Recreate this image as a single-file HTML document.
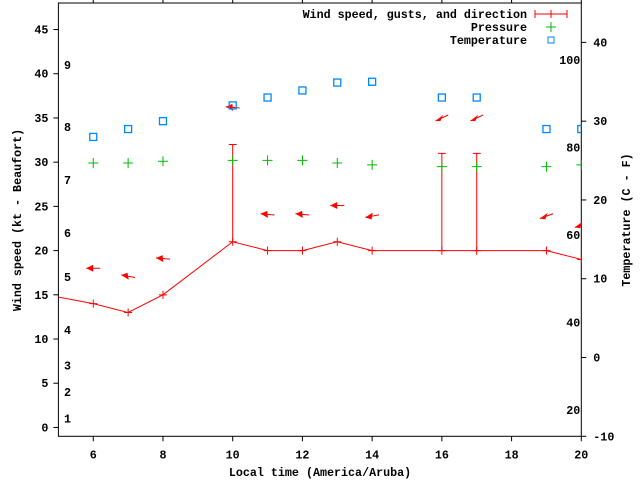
<!DOCTYPE html>
<html><head><meta charset="utf-8"><style>
body{margin:0;background:#fff}
svg text{font-family:"Liberation Mono",monospace;font-weight:bold;font-size:11.7px;fill:#000}
</style></head><body>
<svg id="chart" width="640" height="480" xmlns="http://www.w3.org/2000/svg">
<g id="axes"></g>
<g id="marks"></g>
<g id="legend">
<text x="527" y="18" text-anchor="end">Wind speed, gusts, and direction</text>
<line x1="535" y1="14" x2="567" y2="14" stroke="#f00"/>
<path d="M535 10V18M567 10V18M551 10V18" stroke="#f00"/>
<text x="527" y="31" text-anchor="end">Pressure</text>
<path d="M546 27H556M551 22V32" stroke="#0b0"/>
<text x="527" y="44" text-anchor="end">Temperature</text>
<rect x="548" y="37" width="6" height="6" fill="none" stroke="#08f"/>
</g>
<text transform="translate(21,220) rotate(-90)" text-anchor="middle">Wind speed (kt - Beaufort)</text>
<text transform="translate(630,220) rotate(-90)" text-anchor="middle">Temperature (C - F)</text>
<text x="320" y="476" text-anchor="middle">Local time (America/Aruba)</text>
</svg>
<script>
const hours=[4,6,7,8,10,11,12,13,14,16,17,19,20];
const speeds=[15.5,14,13,15,21,20,20,21,20,20,20,20,19];
const gustHours=[10,16,17];
const gustSpeeds=[32,31,31];
const gustBase=[21,20,20];
const arrowHours=[6,7,8,10,11,12,13,14,16,17,19,20];
const arrowLevels=[18,17.1,19.1,36.2,24.1,24.1,25.1,23.9,35,35,23.9,22.9];
const windDirs=[90,100,95,95,95,95,90,80,65,65,70,70];
const pressHours=[6,7,8,10,11,12,13,14,16,17,19,20];
const pressScaled=[29.9,29.9,30.1,30.2,30.2,30.2,29.9,29.7,29.5,29.5,29.5,29.7];
const tempHours=[6,7,8,10,11,12,13,14,16,17,19,20];
const tempsC=[28,29,30,32,33,33.9,34.9,35,33,33,29,29];
const xTicks=[6,8,10,12,14,16,18,20];
const yTicks=[0,5,10,15,20,25,30,35,40,45];
const y2Ticks=[-10,0,10,20,30,40];
const fTicks=[20,40,60,80,100];
const beaufort=[1,4,7,11,17,22,28,34,41];

const L=58.4,R=581.3,T=3,B=436.3;
const X=v=>L+(v-5)/15*(R-L);
const Y=v=>B-(v+1)/49*(B-T);
const Y2=v=>B-(v+10)/55*(B-T);
const NS="http://www.w3.org/2000/svg";
const axes=document.getElementById('axes'),marks=document.getElementById('marks');
function mk(tag,attrs,parent){const e=document.createElementNS(NS,tag);for(const k in attrs)e.setAttribute(k,attrs[k]);parent.appendChild(e);return e;}

let e=mk('rect',{x:L,y:T,width:R-L,height:B-T,fill:'none',stroke:'#000'},axes);


xTicks.forEach(v=>{
 let t=mk('path',{d:`M${X(v)} ${B}V${B+5}M${X(v)} ${T}V${T-5}`,stroke:'#000'},axes);
 
 
 let l=mk('text',{x:X(v),y:B+22,'text-anchor':'middle'},axes);l.textContent=v;
 
 
});
yTicks.forEach(v=>{
 let t=mk('path',{d:`M${L-5} ${Y(v)}H${L}`,stroke:'#000'},axes);
 
 
 let l=mk('text',{x:L-10,y:Y(v)+4,'text-anchor':'end'},axes);l.textContent=v;
 
 
});
y2Ticks.forEach(v=>{
 let t=mk('path',{d:`M${R} ${Y2(v)}H${R+5}`,stroke:'#000'},axes);
 
 
 let l=mk('text',{x:R+12,y:Y2(v)+4},axes);l.textContent=v;
 
 
});
fTicks.forEach(v=>{
 let l=mk('text',{x:R-1,y:Y2((v-32)*5/9)+4,'text-anchor':'end'},axes);l.textContent=v;
 
 
});
beaufort.forEach((v,i)=>{
 let l=mk('text',{x:64,y:Y(v)+4},axes);l.textContent=i+1;
 
 
});
const defs=mk('clipPath',{id:'clip'},marks);mk('rect',{x:L,y:T,width:R-L,height:B-T},defs);
const g=mk('g',{'clip-path':'url(#clip)'},marks);
let ln=mk('polyline',{points:hours.map((h,i)=>X(h)+','+Y(speeds[i])).join(' '),fill:'none',stroke:'#f00'},g);


hours.forEach((h,i)=>{
 let p=mk('path',{d:`M${X(h)-4} ${Y(speeds[i])}h8M${X(h)} ${Y(speeds[i])-4}v8`,stroke:'#f00'},g);
 
 
});
gustHours.forEach((h,i)=>{
 let p=mk('path',{d:`M${X(h)} ${Y(gustBase[i])}V${Y(gustSpeeds[i])}M${X(h)-4} ${Y(gustSpeeds[i])}h8`,stroke:'#f00'},g);
 
 
});
arrowHours.forEach((h,i)=>{
 const cx=X(h),cy=Y(arrowLevels[i]);
 const a=(windDirs[i]-90)*Math.PI/180;
 const dx=Math.cos(a),dy=Math.sin(a);
 const hx=cx-7*dx,hy=cy+7*dy*-1;
 const tx=cx+7*dx,ty=cy-7*dy*-1;
 const grp=mk('g',{},g);
 
 
 mk('line',{x1:hx,y1:hy,x2:tx,y2:ty,stroke:'#f00'},grp);
 const px=-dy*-1,py=dx;
 mk('polygon',{points:`${hx},${hy} ${hx+7*dx+3.5*px},${hy-7*dy*-1+3.5*py} ${hx+7*dx-3.5*px},${hy-7*dy*-1-3.5*py}`,fill:'#f00'},grp);
});
pressHours.forEach((h,i)=>{
 let p=mk('path',{d:`M${X(h)-5} ${Y(pressScaled[i])}h10M${X(h)} ${Y(pressScaled[i])-5}v10`,stroke:'#0b0'},g);
 
 
});
tempHours.forEach((h,i)=>{
 let r=mk('rect',{x:X(h)-3.5,y:Y2(tempsC[i])-3.5,width:7,height:7,fill:'none',stroke:'#08f','stroke-width':1.3},g);
 
 
});
</script>
</body></html>
